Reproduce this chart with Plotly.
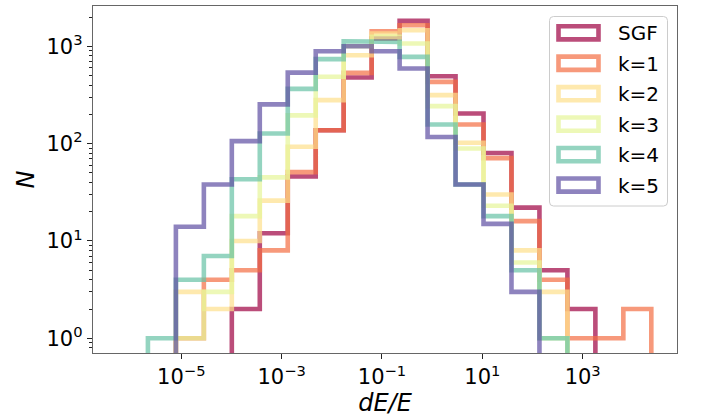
import numpy as np
import plotly.graph_objects as go

# ---------------- data ----------------
series_names = ["SGF", "k=1", "k=2", "k=3", "k=4", "k=5"]
series_colors = ["#9e0142", "#f46d43", "#fee08b", "#e6f598", "#66c2a5", "#5e4fa2"]

# logarithmic histogram bin edges (log10 of dE/E), 19 bins
log_edge_min = -6.2227
log_edge_max = 4.368
n_bins = 19
bin_edges = np.logspace(log_edge_min, log_edge_max, n_bins + 1)

counts_sgf = [0, 0, 0, 0, 2, 12, 46, 137, 478, 1200, 1823, 493, 204, 80, 22, 5, 2, 0, 0]
counts_k1 = [0, 0, 1, 4, 5, 8, 51, 137, 533, 1430, 1648, 431, 157, 71, 16, 4, 1, 1, 2]
counts_k2 = [0, 0, 3, 2, 10, 26, 93, 280, 809, 1350, 1463, 315, 102, 30, 8, 3, 0, 0, 0]
counts_k3 = [0, 0, 1, 3, 18, 45, 195, 486, 1000, 1250, 1070, 243, 89, 23, 6, 1, 0, 0, 0]
counts_k4 = [0, 1, 4, 7, 43, 127, 365, 738, 1128, 1110, 778, 157, 38, 18, 5, 1, 0, 0, 0]
counts_k5 = [0, 0, 14, 38, 106, 253, 536, 891, 1002, 891, 591, 117, 38, 15, 3, 0, 0, 0, 0]
all_counts = [counts_sgf, counts_k1, counts_k2, counts_k3, counts_k4, counts_k5]

x_tick_vals = [1e-5, 1e-3, 1e-1, 1e1, 1e3]
x_tick_text = ["10<sup>\u22125</sup>", "10<sup>\u22123</sup>", "10<sup>\u22121</sup>",
               "10<sup>1</sup>", "10<sup>3</sup>"]
y_tick_vals = [1, 10, 100, 1000]
y_tick_text = ["10<sup>0</sup>", "10<sup>1</sup>", "10<sup>2</sup>", "10<sup>3</sup>"]

# ---------------- helpers ----------------
ALPHA = 0.7
FLOOR = 1e-3  # zero counts fall below the visible log range


def rgba(hex_color, a):
    h = hex_color.lstrip("#")
    r, g, b = int(h[0:2], 16), int(h[2:4], 16), int(h[4:6], 16)
    return f"rgba({r},{g},{b},{a})"


def step_path(edges, counts):
    c = np.asarray(counts, dtype=float)
    c = np.where(c > 0, c, FLOOR)
    xs = [edges[0]]
    ys = [FLOOR]
    for i in range(len(c)):
        xs += [edges[i], edges[i + 1]]
        ys += [c[i], c[i]]
    xs.append(edges[-1])
    ys.append(FLOOR)
    return xs, ys


W, H = 703, 419
L, R, T, B = 93, 26, 6, 66
PW, PH = W - L - R, H - T - B


def px(xp):
    return (xp - L) / PW


def py(yp):
    return 1 - (yp - T) / PH


FONT = "DejaVu Sans"
LW = 4.6

fig = go.Figure()
for name, col, cnt in zip(series_names, series_colors, all_counts):
    xs, ys = step_path(bin_edges, cnt)
    fig.add_trace(go.Scatter(x=xs, y=ys, mode="lines", name=name,
                             line=dict(color=rgba(col, ALPHA), width=LW),
                             showlegend=False, hoverinfo="skip"))

# ---------------- legend (drawn like matplotlib patch legend) ----------------
shapes = []
annotations = []
lx0, lx1, ly0, ly1, rad = 549.5, 667.5, 16.5, 206.0, 4.0
rx, ry = rad / PW, rad / PH
X0, X1, Y0, Y1 = px(lx0), px(lx1), py(ly0), py(ly1)
path = (f"M {X0+rx},{Y0} L {X1-rx},{Y0} Q {X1},{Y0} {X1},{Y0-ry} "
        f"L {X1},{Y1+ry} Q {X1},{Y1} {X1-rx},{Y1} L {X0+rx},{Y1} "
        f"Q {X0},{Y1} {X0},{Y1+ry} L {X0},{Y0-ry} Q {X0},{Y0} {X0+rx},{Y0} Z")
shapes.append(dict(type="path", path=path, xref="paper", yref="paper",
                   line=dict(color="rgba(204,204,204,1)", width=1),
                   fillcolor="rgba(255,255,255,0.8)", layer="above"))

entry_y0, entry_dy = 32.8, 30.45
for i, (name, col) in enumerate(zip(series_names, series_colors)):
    cy = entry_y0 + i * entry_dy
    shapes.append(dict(type="rect", xref="paper", yref="paper",
                       x0=px(558.5), x1=px(598.5), y0=py(cy - 6.6), y1=py(cy + 6.6),
                       line=dict(color=rgba(col, ALPHA), width=LW),
                       fillcolor="rgba(0,0,0,0)", layer="above"))
    annotations.append(dict(text=name, x=px(616.0), y=py(cy + 0.5), xref="paper", yref="paper",
                            xanchor="left", yanchor="middle", showarrow=False,
                            font=dict(family=FONT, size=20, color="black")))

fig.update_layout(
    width=W, height=H,
    margin=dict(l=L, r=R, t=T, b=B, pad=0),
    paper_bgcolor="white", plot_bgcolor="white",
    font=dict(family=FONT, size=20, color="black"),
    shapes=shapes, annotations=annotations,
    showlegend=False,
)

fig.update_xaxes(
    type="log", range=[-6.76, 4.88],
    tickvals=x_tick_vals, ticktext=x_tick_text,
    ticks="outside", ticklen=5, tickwidth=1.1, tickcolor="#222",
    tickfont=dict(family=FONT, size=21, color="black"),
    showline=True, linecolor="#666", linewidth=1.4, mirror=True,
    showgrid=False, zeroline=False,
    title=dict(text="<i>dE/E</i>", font=dict(family=FONT, size=24, color="black"), standoff=4),
)

minor_y = [m * 10 ** e for e in range(-1, 4) for m in range(2, 10)]
fig.update_yaxes(
    type="log", range=[-0.151, 3.414],
    tickvals=y_tick_vals, ticktext=y_tick_text,
    ticks="outside", ticklen=5, tickwidth=1.1, tickcolor="#222",
    tickfont=dict(family=FONT, size=21, color="black"),
    minor=dict(tickvals=minor_y, ticks="outside", ticklen=3, tickwidth=0.8, tickcolor="#222"),
    showline=True, linecolor="#666", linewidth=1.4, mirror=True,
    showgrid=False, zeroline=False,
    title=dict(text="<i>N</i>", font=dict(family=FONT, size=24, color="black"), standoff=5),
)

fig.write_html("out.html")
